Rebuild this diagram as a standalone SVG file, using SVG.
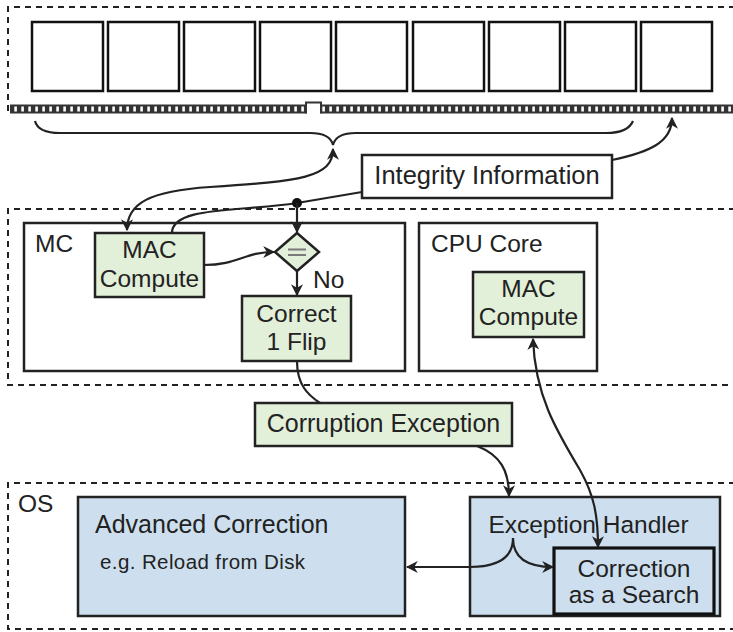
<svg xmlns="http://www.w3.org/2000/svg" width="733" height="632" viewBox="0 0 733 632">
<defs>
<style>
text{font-family:"Liberation Sans",Arial,sans-serif;font-size:24.5px;fill:#222}
.mid{text-anchor:middle}
.dash{fill:none;stroke:#222;stroke-width:2;stroke-dasharray:6 5}
.box{fill:#fff;stroke:#222;stroke-width:2.5}
.chip{fill:#fff;stroke:#111;stroke-width:2.5}
.green{fill:#e2efd9;stroke:#222;stroke-width:2.5}
.blue{fill:#cddfee;stroke:#222;stroke-width:2.5}
.line{fill:none;stroke:#222;stroke-width:2.2}
.arr{marker-end:url(#ah)}
.arr2{marker-start:url(#ah);marker-end:url(#ah)}
</style>
<marker id="ah" viewBox="0 0 10 10" refX="9" refY="5" markerWidth="12" markerHeight="12" markerUnits="userSpaceOnUse" orient="auto-start-reverse">
<path d="M0,0 L10,5 L0,10 L3,5 z" fill="#222"/>
</marker>
<pattern id="pins" x="12" y="104.5" width="7" height="9" patternUnits="userSpaceOnUse">
<rect width="7" height="9" fill="#333"/>
<rect x="2.3" y="2" width="2.6" height="5" fill="#fff"/>
</pattern>
</defs>
<rect width="733" height="632" fill="#fff"/>

<g id="regions">
<path class="dash" d="M735 7 H8 V113 H11"/>
<path class="dash" d="M735 209 H8 V385 H735"/>
<path class="dash" d="M735 483 H8 V629 H735"/>
</g>

<g id="memory">
<rect class="chip" x="32" y="22" width="71" height="69"/>
<rect class="chip" x="108" y="22" width="71" height="69"/>
<rect class="chip" x="184" y="22" width="71" height="69"/>
<rect class="chip" x="260" y="22" width="71" height="69"/>
<rect class="chip" x="336" y="22" width="71" height="69"/>
<rect class="chip" x="413" y="22" width="71" height="69"/>
<rect class="chip" x="489" y="22" width="71" height="69"/>
<rect class="chip" x="565" y="22" width="71" height="69"/>
<rect class="chip" x="641" y="22" width="71" height="69"/>
<rect x="10" y="104.5" width="297" height="9" fill="url(#pins)"/>
<rect x="320" y="104.5" width="413" height="9" fill="url(#pins)"/>
<path d="M306 113.5 V102.5 H321 V113.5" fill="#fff" stroke="#333" stroke-width="2"/>
</g>

<g id="brace">
<path class="line" d="M35 121 Q38 133 60 133 H310 Q330 133 333 145 Q336 133 356 133 H606 Q628 133 633 121"/>
</g>

<g id="integrity">
<rect class="box" x="362" y="155" width="250" height="43"/>
<text class="mid" x="487" y="184" style="font-size:25.5px">Integrity Information</text>
</g>

<g id="mc">
<rect class="box" x="24" y="223" width="381" height="148"/>
<text x="35" y="252">MC</text>
</g>

<g id="mc-mac">
<rect class="green" x="95" y="233" width="109" height="64"/>
<text class="mid" x="149.5" y="258">MAC</text>
<text class="mid" x="149.5" y="287">Compute</text>
</g>

<g id="compare">
<path class="green" d="M297 233 L319 252 L297 271 L275 252 Z"/>
<path d="M288 249.5 H306 M288 255 H306" stroke="#7a7a7a" stroke-width="2"/>
</g>
<text id="no-label" x="313" y="288">No</text>

<g id="correct">
<rect class="green" x="242" y="296" width="109" height="65"/>
<text class="mid" x="296.5" y="322">Correct</text>
<text class="mid" x="296.5" y="350">1 Flip</text>
</g>

<g id="cpu">
<rect class="box" x="419" y="223" width="178" height="148"/>
<text x="431" y="252">CPU Core</text>
</g>

<g id="cpu-mac">
<rect class="green" x="473" y="272" width="111" height="65"/>
<text class="mid" x="528.5" y="297">MAC</text>
<text class="mid" x="528.5" y="325">Compute</text>
</g>

<g id="corruption">
<rect class="green" x="255" y="403" width="257" height="43"/>
<text class="mid" x="383.5" y="432" style="font-size:25px">Corruption Exception</text>
</g>

<g id="os">
<text x="18" y="512">OS</text>
</g>

<g id="advanced">
<rect class="blue" x="78" y="497" width="327" height="119"/>
<text x="95" y="533" style="font-size:25px">Advanced Correction</text>
<text x="100" y="569" style="font-size:20.5px;letter-spacing:0.4px">e.g. Reload from Disk</text>
</g>

<g id="handler">
<rect class="blue" x="470" y="497" width="250" height="119"/>
<text class="mid" x="588.5" y="533">Exception Handler</text>
</g>

<g id="search">
<rect x="554" y="548" width="160" height="66" fill="#cddfee" stroke="#111" stroke-width="3.2"/>
<text class="mid" x="634" y="577">Correction</text>
<text class="mid" x="634" y="603">as a Search</text>
</g>

<g id="connectors">
<path class="line arr2" d="M333 149 C333 178 300 181 210 187 C150 191 127 203 127 230"/>
<path class="line" d="M362 192 L297 203 C240 212 172 206 172 233"/>
<circle cx="297" cy="203" r="5" fill="#111"/>
<path class="line arr" d="M297 203 V232"/>
<path class="line arr" d="M612 160 C650 152 672 142 672 118"/>
<path class="line arr" d="M204 265 C238 265 244 252 274 252"/>
<path class="line arr" d="M297 271 V295"/>
<path class="line" d="M297 361 C297 385 308 395 320 403"/>
<path class="line arr" d="M477 446 C500 455 509 470 509 496"/>
<path class="line arr2" d="M533 339 C535 395 556 430 580 470 C594 495 598 515 598 547"/>
<path class="line arr" d="M513 538 C513 560 495 567 470 567 H407"/>
<path class="line arr" d="M513 538 C513 558 528 567 553 567"/>
</g>
</svg>
